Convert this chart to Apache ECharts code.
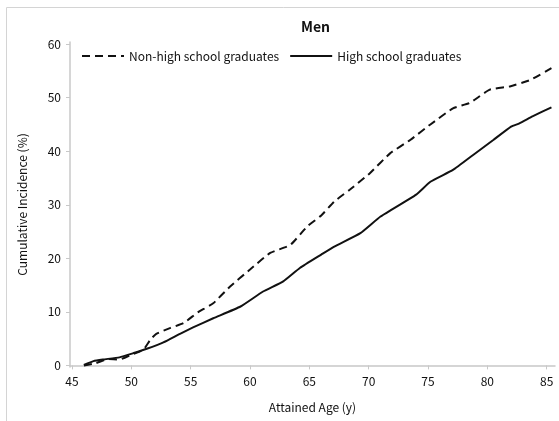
<!DOCTYPE html>
<html><head><meta charset="utf-8">
<script src="https://cdn.jsdelivr.net/npm/echarts@6/dist/echarts.min.js"></script>
<style>html,body{margin:0;padding:0;background:#fff}#c{width:559px;height:421px}</style>
</head><body><div id="c"></div>
<script>
const xTicks = [45, 50, 55, 60, 65, 70, 75, 80, 85];
const yTicks = [0, 10, 20, 30, 40, 50, 60];
const nonHsAges = [46, 47, 48, 49, 50, 51, 51.6, 52.1, 53.3, 54.4, 55.6, 56.9, 58.3, 60, 61.7, 63.4, 64.8, 66, 67.1, 68.4, 70.1, 71.8, 73.5, 75.2, 77.1, 78.5, 80.2, 81.9, 83.6, 85.4];
const nonHsVals = [0, 0.4, 1.2, 1.1, 2.0, 2.9, 4.8, 5.9, 7.0, 7.9, 9.9, 11.6, 14.7, 17.9, 21.0, 22.5, 25.9, 28.0, 30.6, 32.8, 35.9, 39.6, 42.1, 45.0, 48.0, 49.0, 51.5, 52.1, 53.3, 55.5];
const hsAges = [46, 46.8, 47.6, 49, 50.2, 51.3, 52.7, 54.1, 55.2, 56.9, 59.2, 61.1, 62.8, 64.2, 66, 67.1, 69.3, 71, 74, 75.2, 77.1, 78.8, 80.5, 82, 82.7, 83.8, 85.4];
const hsVals = [0.1, 0.8, 1.1, 1.5, 2.3, 3.1, 4.3, 5.9, 7.1, 8.8, 11.0, 13.8, 15.7, 18.2, 20.7, 22.2, 24.7, 27.8, 31.9, 34.3, 36.5, 39.3, 42.1, 44.6, 45.2, 46.5, 48.2];

const FONT = '"Noto Sans CJK JP", "Noto Sans", sans-serif';
const chart = echarts.init(document.getElementById('c'));
const axisGray = '#c8c8c8';
chart.setOption({
  animation: false,
  textStyle: {fontFamily: FONT},
  graphic: [{type: 'rect', shape: {x: 6.5, y: 7.5, width: 700, height: 700}, style: {fill: 'none', stroke: '#d4d4d4', lineWidth: 1}, silent: true}],
  title: {text: 'Men', left: 296, top: 15, textStyle: {fontFamily: FONT, fontWeight: 'bold', fontSize: 14, color: '#111'}},
  legend: {
    left: 76, top: 45, itemWidth: 42, itemHeight: 10, itemGap: 10,
    itemStyle: {color: 'transparent', borderWidth: 0, opacity: 0},
    textStyle: {fontFamily: FONT, fontSize: 12, color: '#111'},
    data: ['Non-high school graduates', 'High school graduates']
  },
  grid: {left: 70, right: 4, top: 42, bottom: 54},
  xAxis: {
    type: 'value', min: 44.83, max: 85.7,
    name: 'Attained Age (y)', nameLocation: 'middle', nameGap: 34,
    nameTextStyle: {fontFamily: FONT, fontSize: 12, color: '#111'},
    axisLine: {show: true, lineStyle: {color: axisGray, width: 1.5}},
    axisTick: {show: true, length: 4, lineStyle: {color: axisGray}, customValues: xTicks},
    axisLabel: {color: '#111', fontSize: 12, margin: 8, customValues: xTicks},
    splitLine: {show: false}
  },
  yAxis: {
    type: 'value', min: -0.3, max: 60.4,
    name: 'Cumulative Incidence (%)', nameLocation: 'middle', nameGap: 42,
    nameTextStyle: {fontFamily: FONT, fontSize: 12, color: '#111'},
    axisLine: {show: true, lineStyle: {color: axisGray, width: 1.5}},
    axisTick: {show: true, length: 4, lineStyle: {color: axisGray}, customValues: yTicks},
    axisLabel: {color: '#111', fontSize: 12, margin: 9, customValues: yTicks},
    splitLine: {show: false}
  },
  series: [
    {name: 'Non-high school graduates', type: 'line', symbol: 'none', smooth: 0.15, data: nonHsAges.map((a, i) => [a, nonHsVals[i]]),
     lineStyle: {color: '#111', width: 2, type: [8, 5]}, itemStyle: {color: '#111'}},
    {name: 'High school graduates', type: 'line', symbol: 'none', smooth: 0.15, data: hsAges.map((a, i) => [a, hsVals[i]]),
     lineStyle: {color: '#111', width: 2}, itemStyle: {color: '#111'}}
  ]
});
</script></body></html>
